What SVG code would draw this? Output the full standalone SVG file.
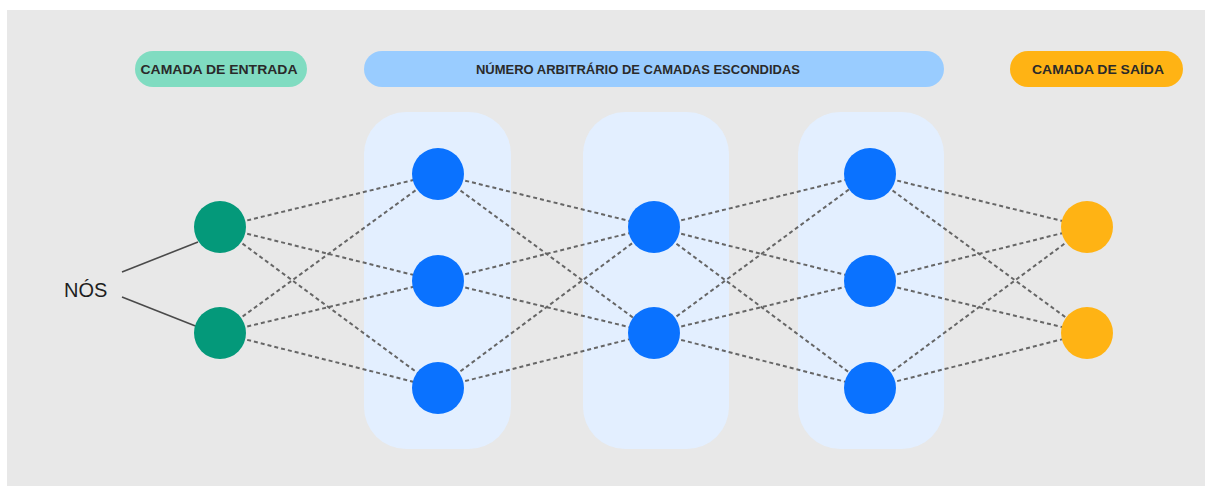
<svg xmlns="http://www.w3.org/2000/svg" width="1205" height="486" viewBox="0 0 1205 486">
  <defs>
    <style>
      .bg { fill: #e8e8e8; }
      .panel { fill: #e3efff; }
      .pill-text { font-family: "Liberation Sans", Arial, sans-serif; font-size: 13.5px; font-weight: bold; fill: #2a2a2a; text-anchor: middle; }
      .edge { stroke: #666666; stroke-width: 2; stroke-dasharray: 4 3; fill: none; }
      .pointer { stroke: #4a4a4a; stroke-width: 1.6; fill: none; }
      .in { fill: #04997a; }
      .hid { fill: #0a72ff; }
      .out { fill: #ffb314; }
      .label { font-family: "Liberation Sans", Arial, sans-serif; font-size: 20px; fill: #1e1e1e; }
    </style>
  </defs>

  <rect class="bg" x="7" y="10" width="1198" height="476"/>

  <!-- layer titles -->
  <g id="title-input">
    <rect x="135" y="51" width="172" height="36" rx="18" fill="#80dcc1"/>
    <text class="pill-text" x="219" y="74" textLength="157" lengthAdjust="spacingAndGlyphs">CAMADA DE ENTRADA</text>
  </g>
  <g id="title-hidden">
    <rect x="364" y="51" width="580" height="36" rx="18" fill="#99ccff"/>
    <text class="pill-text" x="638" y="74" textLength="324" lengthAdjust="spacingAndGlyphs">NÚMERO ARBITRÁRIO DE CAMADAS ESCONDIDAS</text>
  </g>
  <g id="title-output">
    <rect x="1010" y="51" width="173" height="36" rx="18" fill="#ffb314"/>
    <text class="pill-text" x="1098" y="74" textLength="132" lengthAdjust="spacingAndGlyphs">CAMADA DE SAÍDA</text>
  </g>

  <!-- hidden layer panels -->
  <g id="panel-h1"><rect class="panel" x="364" y="112" width="147" height="337" rx="42"/></g>
  <g id="panel-h2"><rect class="panel" x="583" y="112" width="146" height="337" rx="42"/></g>
  <g id="panel-h3"><rect class="panel" x="798" y="112" width="146" height="337" rx="42"/></g>

  <!-- connections between layers -->
  <g id="connectors">
    <!-- input -> hidden 1 -->
    <line class="edge" x1="220" y1="227" x2="438" y2="174"/>
    <line class="edge" x1="220" y1="227" x2="438" y2="281"/>
    <line class="edge" x1="220" y1="227" x2="438" y2="388"/>
    <line class="edge" x1="220" y1="333" x2="438" y2="174"/>
    <line class="edge" x1="220" y1="333" x2="438" y2="281"/>
    <line class="edge" x1="220" y1="333" x2="438" y2="388"/>
    <!-- hidden 1 -> hidden 2 -->
    <line class="edge" x1="438" y1="174" x2="654" y2="227"/>
    <line class="edge" x1="438" y1="174" x2="654" y2="333"/>
    <line class="edge" x1="438" y1="281" x2="654" y2="227"/>
    <line class="edge" x1="438" y1="281" x2="654" y2="333"/>
    <line class="edge" x1="438" y1="388" x2="654" y2="227"/>
    <line class="edge" x1="438" y1="388" x2="654" y2="333"/>
    <!-- hidden 2 -> hidden 3 -->
    <line class="edge" x1="654" y1="227" x2="870" y2="174"/>
    <line class="edge" x1="654" y1="227" x2="870" y2="281"/>
    <line class="edge" x1="654" y1="227" x2="870" y2="388"/>
    <line class="edge" x1="654" y1="333" x2="870" y2="174"/>
    <line class="edge" x1="654" y1="333" x2="870" y2="281"/>
    <line class="edge" x1="654" y1="333" x2="870" y2="388"/>
    <!-- hidden 3 -> output -->
    <line class="edge" x1="870" y1="174" x2="1087" y2="227"/>
    <line class="edge" x1="870" y1="174" x2="1087" y2="333"/>
    <line class="edge" x1="870" y1="281" x2="1087" y2="227"/>
    <line class="edge" x1="870" y1="281" x2="1087" y2="333"/>
    <line class="edge" x1="870" y1="388" x2="1087" y2="227"/>
    <line class="edge" x1="870" y1="388" x2="1087" y2="333"/>
    <!-- node label pointers -->
    <line class="pointer" x1="122" y1="272" x2="198" y2="242"/>
    <line class="pointer" x1="122" y1="297" x2="198" y2="327"/>
  </g>

  <!-- nodes -->
  <g id="in1"><circle class="in" cx="220" cy="227" r="26"/></g>
  <g id="in2"><circle class="in" cx="220" cy="333" r="26"/></g>

  <g id="h1a"><circle class="hid" cx="438" cy="174" r="26"/></g>
  <g id="h1b"><circle class="hid" cx="438" cy="281" r="26"/></g>
  <g id="h1c"><circle class="hid" cx="438" cy="388" r="26"/></g>

  <g id="h2a"><circle class="hid" cx="654" cy="227" r="26"/></g>
  <g id="h2b"><circle class="hid" cx="654" cy="333" r="26"/></g>

  <g id="h3a"><circle class="hid" cx="870" cy="174" r="26"/></g>
  <g id="h3b"><circle class="hid" cx="870" cy="281" r="26"/></g>
  <g id="h3c"><circle class="hid" cx="870" cy="388" r="26"/></g>

  <g id="out1"><circle class="out" cx="1087" cy="227" r="26"/></g>
  <g id="out2"><circle class="out" cx="1087" cy="333" r="26"/></g>

  <g id="nodes-label">
    <text class="label" x="64" y="297">NÓS</text>
  </g>
</svg>
